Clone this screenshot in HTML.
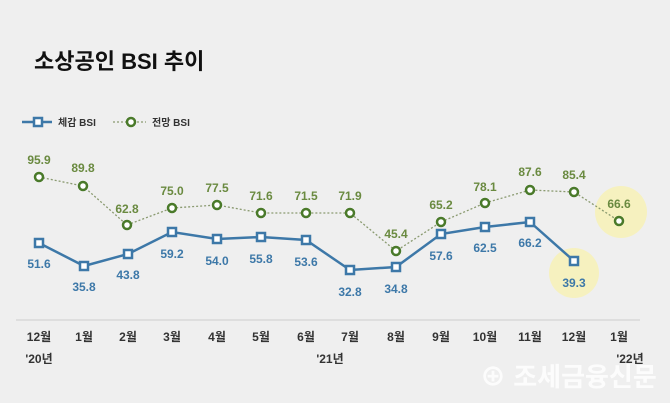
<!DOCTYPE html>
<html><head><meta charset="utf-8"><style>
body{margin:0;background:#efefef}
svg{display:block;font-family:"Liberation Sans","Noto Sans CJK KR",sans-serif}
</style></head><body>
<svg width="670" height="403" viewBox="0 0 670 403">
<rect width="670" height="403" fill="#efefef"/>
<text x="34" y="69" font-size="22" font-weight="bold" fill="#111">소상공인 BSI 추이</text>
<line x1="22" y1="122" x2="52" y2="122" stroke="#3d78a8" stroke-width="2.5"/>
<rect x="34" y="118" width="8" height="8" fill="#fff" stroke="#3d78a8" stroke-width="2.5"/>
<text x="58" y="126" font-size="10" font-weight="bold" fill="#333">체감 BSI</text>
<line x1="113" y1="122" x2="146" y2="122" stroke="#8a9a70" stroke-width="1.2" stroke-dasharray="2,2"/>
<circle cx="131" cy="122" r="4" fill="#fff" stroke="#4a7a2a" stroke-width="2.5"/>
<text x="152" y="126" font-size="10" font-weight="bold" fill="#333">전망 BSI</text>
<circle cx="574" cy="273" r="25" fill="#f6f1bf"/>
<circle cx="621" cy="212" r="26" fill="#f6f1bf"/>
<line x1="16" y1="320" x2="640" y2="320" stroke="#ccc" stroke-width="1"/>
<polyline fill="none" stroke="#8a9a70" stroke-width="1.3" stroke-dasharray="2,2" points="39,177 83,186 127,225 172,208 217,205 261,213 306,213 350,213 396,251 441,222 485,203 530,190 574,192 619,221"/>
<polyline fill="none" stroke="#3d78a8" stroke-width="2.5" points="39,243 84,266 128,254 172,232 217,239 261,237 306,240 350,270 396,267 441,234 485,227 530,222 574,261"/>
<g fill="#fff" stroke="#4a7a2a" stroke-width="2.5">
<circle cx="39" cy="177" r="4"/><circle cx="83" cy="186" r="4"/><circle cx="127" cy="225" r="4"/><circle cx="172" cy="208" r="4"/><circle cx="217" cy="205" r="4"/><circle cx="261" cy="213" r="4"/><circle cx="306" cy="213" r="4"/><circle cx="350" cy="213" r="4"/><circle cx="396" cy="251" r="4"/><circle cx="441" cy="222" r="4"/><circle cx="485" cy="203" r="4"/><circle cx="530" cy="190" r="4"/><circle cx="574" cy="192" r="4"/><circle cx="619" cy="221" r="4"/>
</g>
<g fill="#fff" stroke="#3d78a8" stroke-width="2.5">
<rect x="35" y="239" width="8" height="8"/><rect x="80" y="262" width="8" height="8"/><rect x="124" y="250" width="8" height="8"/><rect x="168" y="228" width="8" height="8"/><rect x="213" y="235" width="8" height="8"/><rect x="257" y="233" width="8" height="8"/><rect x="302" y="236" width="8" height="8"/><rect x="346" y="266" width="8" height="8"/><rect x="392" y="263" width="8" height="8"/><rect x="437" y="230" width="8" height="8"/><rect x="481" y="223" width="8" height="8"/><rect x="526" y="218" width="8" height="8"/><rect x="570" y="257" width="8" height="8"/>
</g>
<g font-size="12" font-weight="bold" fill="#6a8a40" text-anchor="middle">
<text x="39" y="164">95.9</text><text x="83" y="172">89.8</text><text x="127" y="213">62.8</text><text x="172" y="195">75.0</text><text x="217" y="192">77.5</text><text x="261" y="200">71.6</text><text x="306" y="200">71.5</text><text x="350" y="200">71.9</text><text x="396" y="238">45.4</text><text x="441" y="209">65.2</text><text x="485" y="191">78.1</text><text x="530" y="176">87.6</text><text x="574" y="179">85.4</text><text x="619" y="208">66.6</text>
</g>
<g font-size="12" font-weight="bold" fill="#3d78a8" text-anchor="middle">
<text x="39" y="268">51.6</text><text x="84" y="291">35.8</text><text x="128" y="279">43.8</text><text x="172" y="258">59.2</text><text x="217" y="265">54.0</text><text x="261" y="263">55.8</text><text x="306" y="266">53.6</text><text x="350" y="296">32.8</text><text x="396" y="293">34.8</text><text x="441" y="260">57.6</text><text x="485" y="252">62.5</text><text x="530" y="247">66.2</text><text x="574" y="287">39.3</text>
</g>
<g font-size="12" font-weight="bold" fill="#333" text-anchor="middle">
<text x="39" y="341">12월</text><text x="84" y="341">1월</text><text x="128" y="341">2월</text><text x="172" y="341">3월</text><text x="217" y="341">4월</text><text x="261" y="341">5월</text><text x="306" y="341">6월</text><text x="350" y="341">7월</text><text x="396" y="341">8월</text><text x="441" y="341">9월</text><text x="485" y="341">10월</text><text x="530" y="341">11월</text><text x="574" y="341">12월</text><text x="619" y="341">1월</text>
<text x="39" y="363">'20년</text><text x="330" y="363">'21년</text><text x="630" y="363">'22년</text>
</g>
<text x="480" y="386" font-size="26" font-weight="bold" fill="#fff" opacity="0.85">⊕ 조세금융신문</text>
</svg>
</body></html>
